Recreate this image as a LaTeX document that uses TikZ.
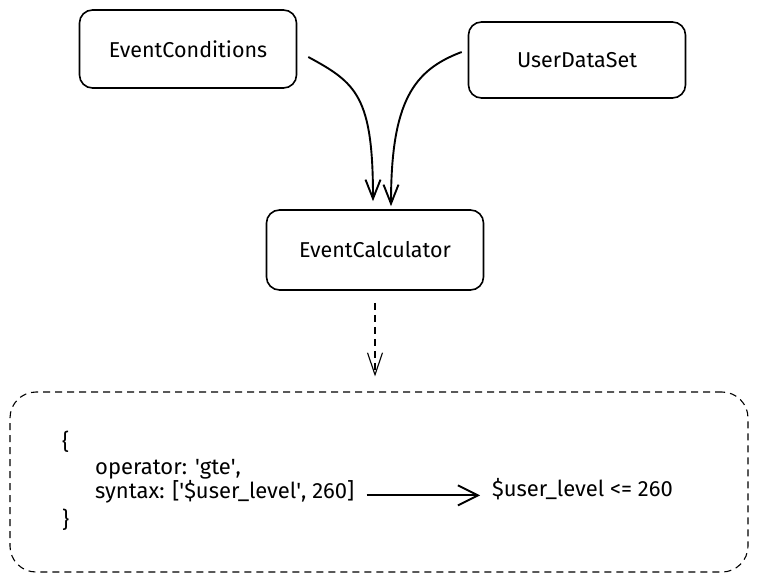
\documentclass[tikz,border=0pt]{standalone}
\usepackage{fontspec}
\setmainfont{Fira Sans}
\usetikzlibrary{arrows.meta, positioning}
\tikzset{block/.style={draw, line width=1.6pt, rounded corners=13pt, minimum width=217pt, minimum height=78pt, font=\fontsize{21.5}{25}\selectfont},
  flow/.style={line width=1.9pt, -{Straight Barb[length=19pt, width=15pt, line width=1.9pt]}},
  codeline/.style={anchor=base west, inner sep=0pt, font=\fontsize{22}{26}\selectfont}}

\begin{document}
\begin{tikzpicture}[x=1pt, y=-1pt]
  \useasboundingbox (0,0) rectangle (757,581);
  \node[block] (conditions) at (188,49) {EventConditions};
  \node[block, minimum height=76pt] (userdata) at (577,60) {UserDataSet};
  \node[block, minimum height=80pt] (calculator) at (375,250) {EventCalculator};
  \node[draw, dashed, dash pattern=on 7pt off 5pt, line width=1.1pt, rounded corners=26pt, minimum width=738pt, minimum height=180pt] (result_box) at (379,482) {};
  % contingut del requadre
  \node[codeline] (open_brace) at (62,449) {\{};
  \node[codeline] (operator) at (95,474) {operator: \textquotesingle gte\textquotesingle,};
  \node[codeline] (syntax) at (95,498) {syntax: [\textquotesingle\$user\_level\textquotesingle, 260]};
  \node[codeline] (close_brace) at (62,527) {\}};
  \node[codeline] (expression) at (492,496) {\$user\_level <= 260};
  \draw[flow] ([shift={(11,8)}]conditions.east) .. controls +(48,26) and +(0,-105) .. ([shift={(-2,-8)}]calculator.north);
  \draw[flow] ([shift={(-6,-8)}]userdata.west) .. controls +(-48,18) and +(0,-105) .. ([shift={(16,-3)}]calculator.north);
  \draw[dashed, dash pattern=on 7pt off 5pt, line width=1.1pt, -{Straight Barb[length=22pt, width=15pt, line width=1.1pt]}] ([yshift=-12]calculator.south) -- ([yshift=15]calculator.south |- result_box.north);
  \draw[flow, -{Straight Barb[length=20pt, width=20pt, line width=1.9pt]}] ([xshift=12]syntax.mid east) -- ([xshift=-12]syntax.mid east -| expression.mid west);
\end{tikzpicture}
\end{document}
